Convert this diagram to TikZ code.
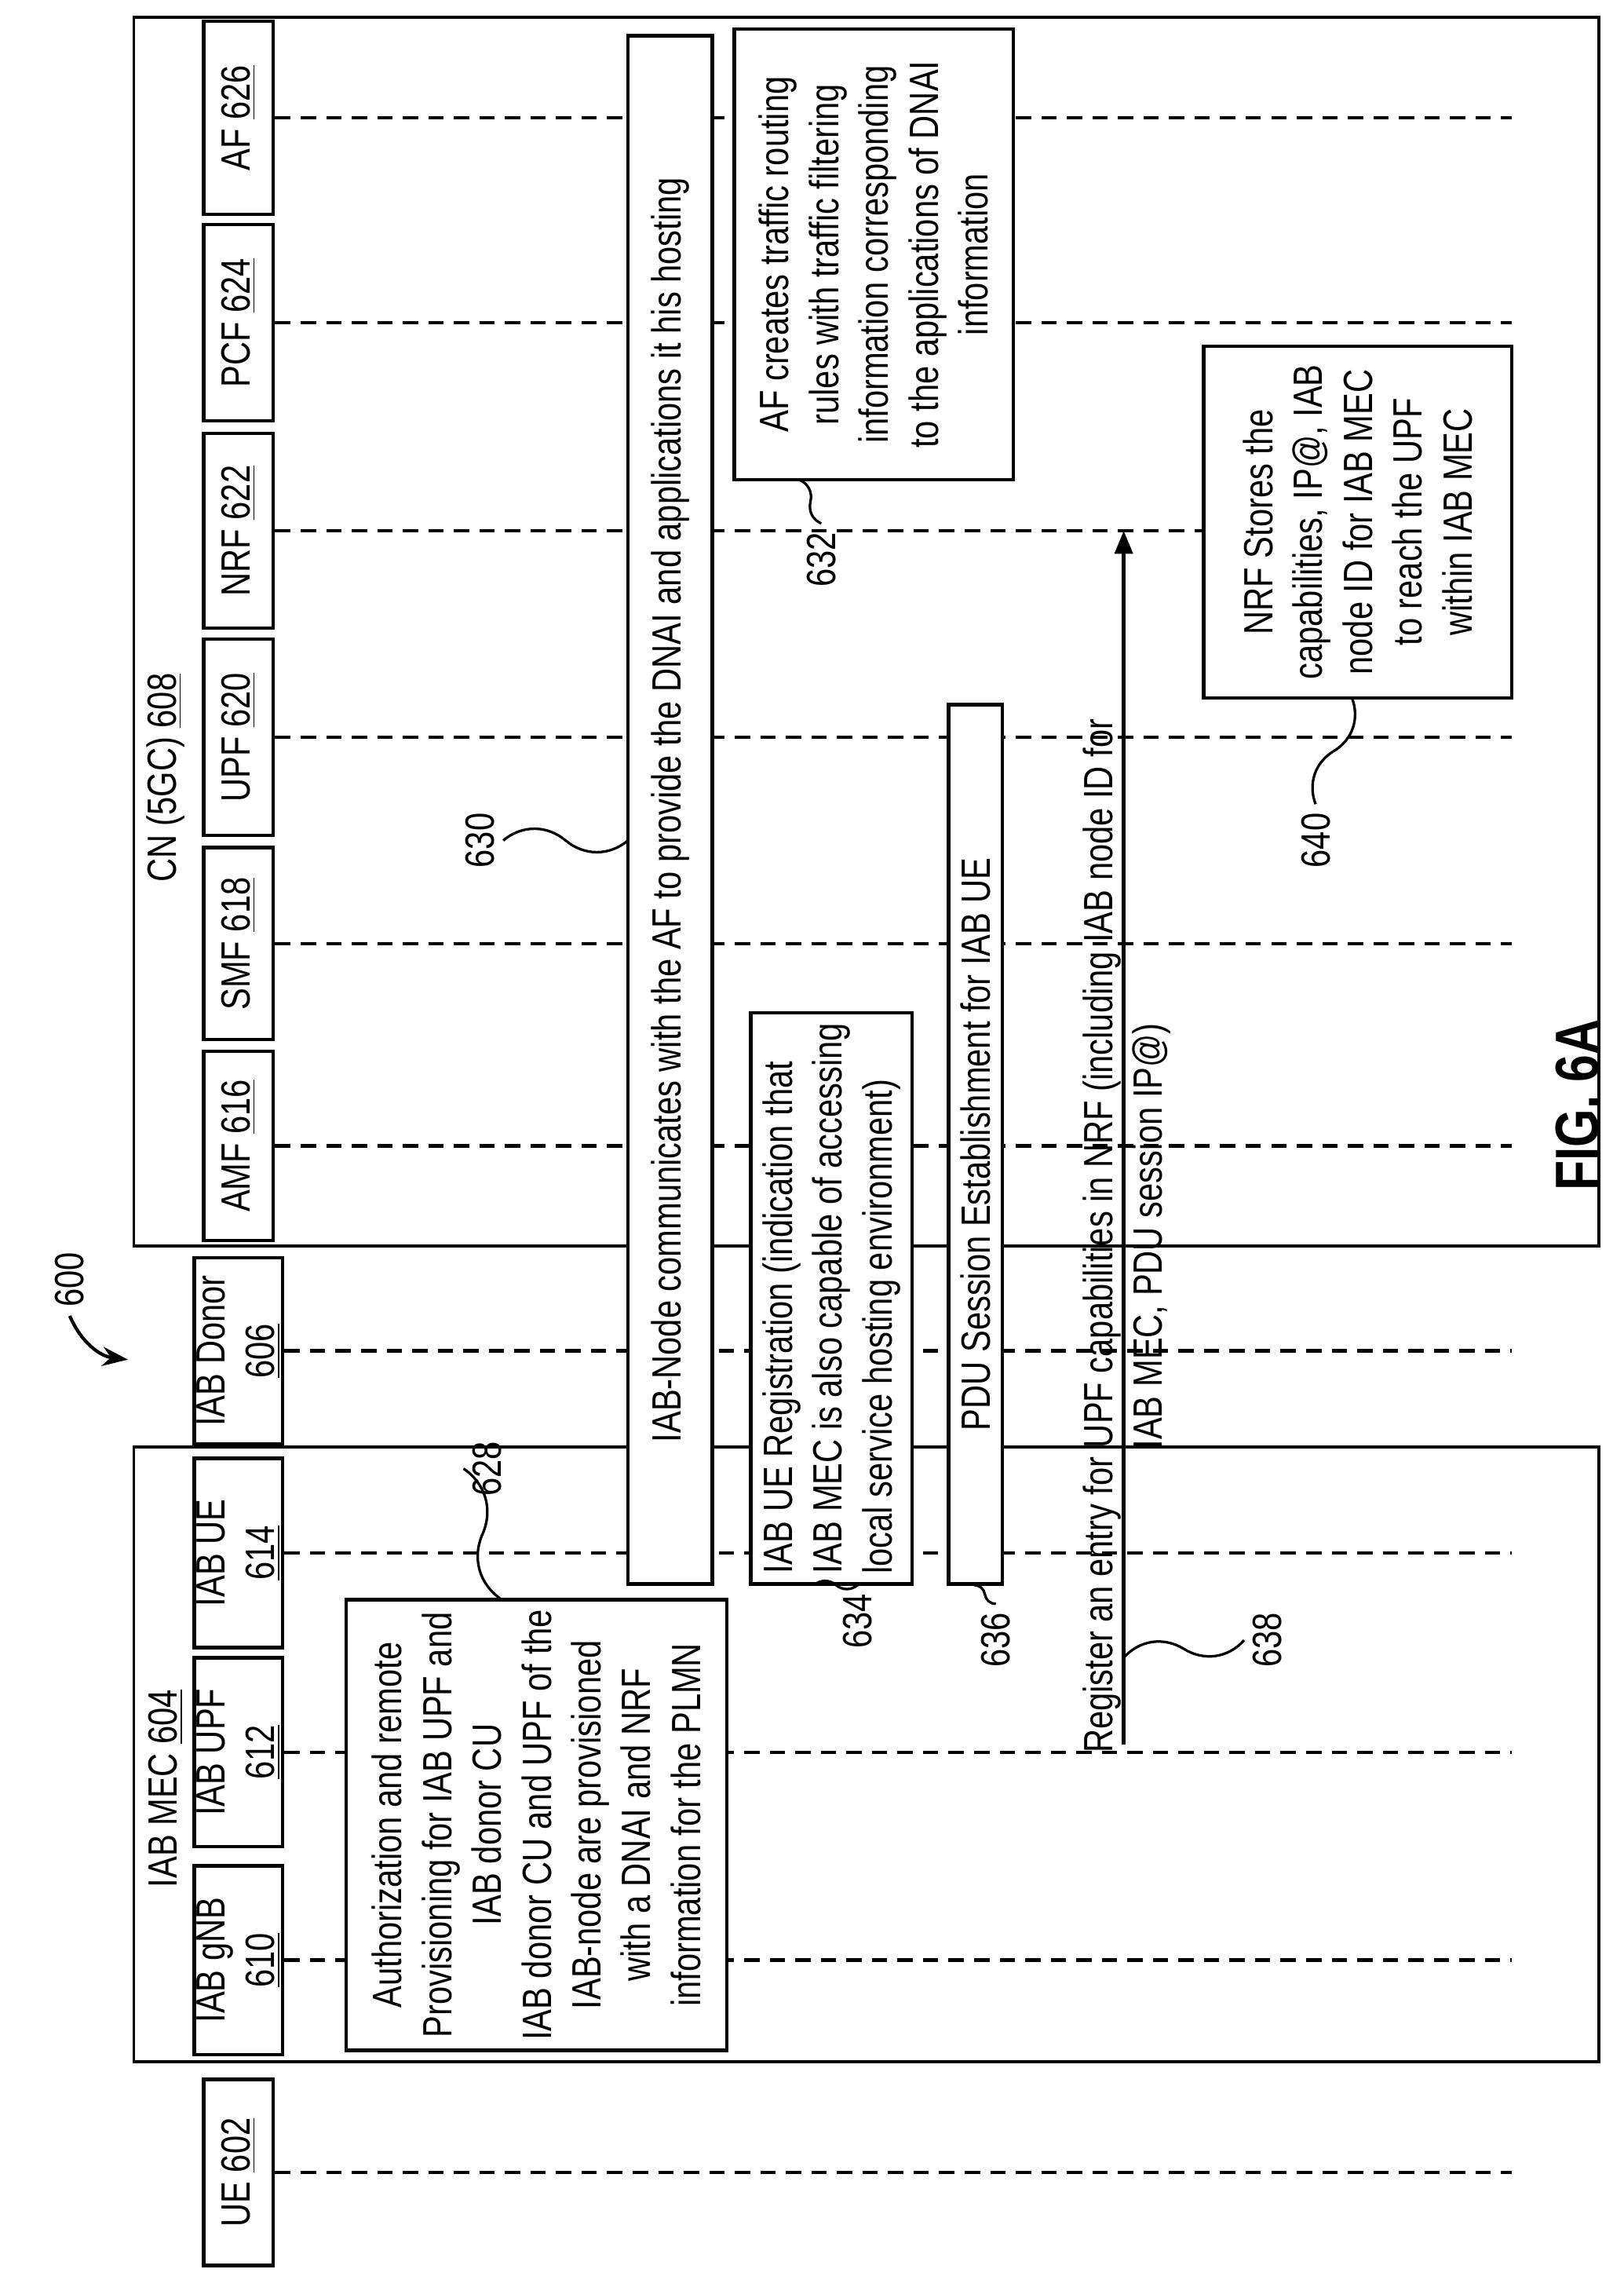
\documentclass[tikz,border=0pt]{standalone}
\usepackage{fontspec}
\setmainfont{Liberation Sans}[FakeStretch=0.8]
\usetikzlibrary{positioning,calc,arrows.meta}

\begin{document}
\begin{tikzpicture}[x=0.02cm,y=-0.02cm,
    every node/.style={font=\fontsize{16}{19.5}\selectfont},
    party/.style={draw,fill=white,line width=1.4pt,rotate=90,align=center,minimum height=0.96cm,inner sep=1pt},
    note/.style={draw,fill=white,line width=1.4pt,rotate=90,align=center,inner sep=2pt},
    tag/.style={rotate=90},
    life/.style={line width=1.3pt,dash pattern=on 6pt off 4pt},
    squig/.style={line width=1pt},
    frame/.style={line width=1.1pt}]
  \useasboundingbox (0,0) rectangle (1117,1568);

  % Frames
  \draw[frame] (92,995) rectangle (1100,1418);
  \draw[frame] (92,12) rectangle (1100,857);
  \node[tag] (mec) at (114,1230) {IAB MEC \underline{604}};
  \node[tag] (cn) at (114,535) {CN (5GC) \underline{608}};

  % Participants
  \node[party,minimum width=2.56cm] (ue)    at (164,1494) {UE \underline{602}};
  \node[party,minimum width=2.6cm]  (gnb)   at (164,1348) {IAB gNB\\\underline{610}};
  \node[party,minimum width=2.6cm]  (iupf)  at (164,1205) {IAB UPF\\\underline{612}};
  \node[party,minimum width=2.6cm]  (iue)   at (164,1068) {IAB UE\\\underline{614}};
  \node[party,minimum width=2.56cm] (donor) at (164,929)  {IAB Donor\\\underline{606}};
  \node[party,minimum width=2.6cm]  (amf)   at (164,788)  {AMF \underline{616}};
  \node[party,minimum width=2.64cm] (smf)   at (164,649)  {SMF \underline{618}};
  \node[party,minimum width=2.7cm]  (upf)   at (164,507)  {UPF \underline{620}};
  \node[party,minimum width=2.68cm] (nrf)   at (164,365)  {NRF \underline{622}};
  \node[party,minimum width=2.7cm]  (pcf)   at (164,222)  {PCF \underline{624}};
  \node[party,minimum width=2.66cm] (af)    at (164,81)   {AF \underline{626}};

  % Lifelines
  \foreach \p in {ue,gnb,iupf,iue,donor,amf,smf,upf,nrf,pcf,af}
    \draw[life] (\p.south) -- (\p.south -| 1040,0);

  % Steps
  \node[note,minimum width=6.2cm,minimum height=5.24cm] (auth) at (369,1255)
    {Authorization and remote\\Provisioning for IAB UPF and\\IAB donor CU\\IAB donor CU and UPF of the\\IAB-node are provisioned\\with a DNAI and NRF\\information for the PLMN};
  \node[note,minimum width=21.3cm,minimum height=1.16cm] (comm) at (461,557)
    {IAB-Node communicates with the AF to provide the DNAI and applications it his hosting};
  \node[note,minimum width=6.2cm,minimum height=3.84cm] (rules) at (601,175)
    {AF creates traffic routing\\rules with traffic filtering\\information corresponding\\to the applications of DNAI\\information};
  \node[note,align=left,minimum width=7.86cm,minimum height=2.22cm] (reg) at (572,893)
    {IAB UE Registration (indication that\\IAB MEC is also capable of accessing\\local service hosting environment)};
  \node[note,minimum width=12.1cm,minimum height=0.74cm] (pdu) at (671,787)
    {PDU Session Establishment for IAB UE};
  \node[note,minimum width=4.84cm,minimum height=4.24cm] (store) at (934,359)
    {NRF Stores the\\capabilities, IP@, IAB\\node ID for IAB MEC\\to reach the UPF\\within IAB MEC};

  % Register message
  \coordinate (regsrc) at (773,1200);
  \draw[line width=1.4pt,-{Triangle[length=9pt,width=7pt]}] (regsrc) -- (regsrc |- nrf.south);
  \node[tag,align=center] (reglbl) at (775,850)
    {Register an entry for UPF capabilities in NRF (including IAB node ID for\\IAB MEC, PDU session IP@)};

  % Reference numerals
  \node[tag] (n600) at (48,880) {600};
  \node[tag] (n628) at (335,1010) {628};
  \node[tag] (n630) at (330,578) {630};
  \node[tag] (n632) at (565,385) {632};
  \node[tag] (n634) at (590,1115) {634};
  \node[tag] (n636) at (685,1128) {636};
  \node[tag] (n638) at (872,1128) {638};
  \node[tag] (n640) at (905,578) {640};
  \node[tag,font=\fontsize{24}{28}\selectfont\bfseries] (fig) at (1085,760) {FIG. 6A};

  \coordinate (c628) at (345,1100);
  \coordinate (c630) at (432,578);
  \coordinate (c632) at (550,330);
  \coordinate (c634) at (560,1090);
  \coordinate (c636) at (670,1090);
  \coordinate (c638) at (773,1140);
  \coordinate (c640) at (930,480);
  \draw[squig] (n628.north) to[bend left=40] ($(n628.north)!0.5!(c628)$) to[bend right=40] (c628);
  \draw[squig] (n630.south) to[bend left=40] ($(n630.south)!0.5!(c630)$) to[bend right=40] (c630);
  \draw[squig] (n632.east) to[bend left=40] ($(n632.east)!0.5!(c632)$) to[bend right=40] (c632);
  \draw[squig] (n634.east) to[bend left=40] ($(n634.east)!0.5!(c634)$) to[bend right=40] (c634);
  \draw[squig] (n636.east) to[bend left=40] ($(n636.east)!0.5!(c636)$) to[bend right=40] (c636);
  \draw[squig] (n638.north) to[bend left=40] ($(n638.north)!0.5!(c638)$) to[bend right=40] (c638);
  \draw[squig] (n640.east) to[bend left=40] ($(n640.east)!0.5!(c640)$) to[bend right=40] (c640);
  \draw[line width=1.3pt,-{Stealth[length=10pt]}] (n600.west) to[bend right=30] (88,935);
\end{tikzpicture}
\end{document}
